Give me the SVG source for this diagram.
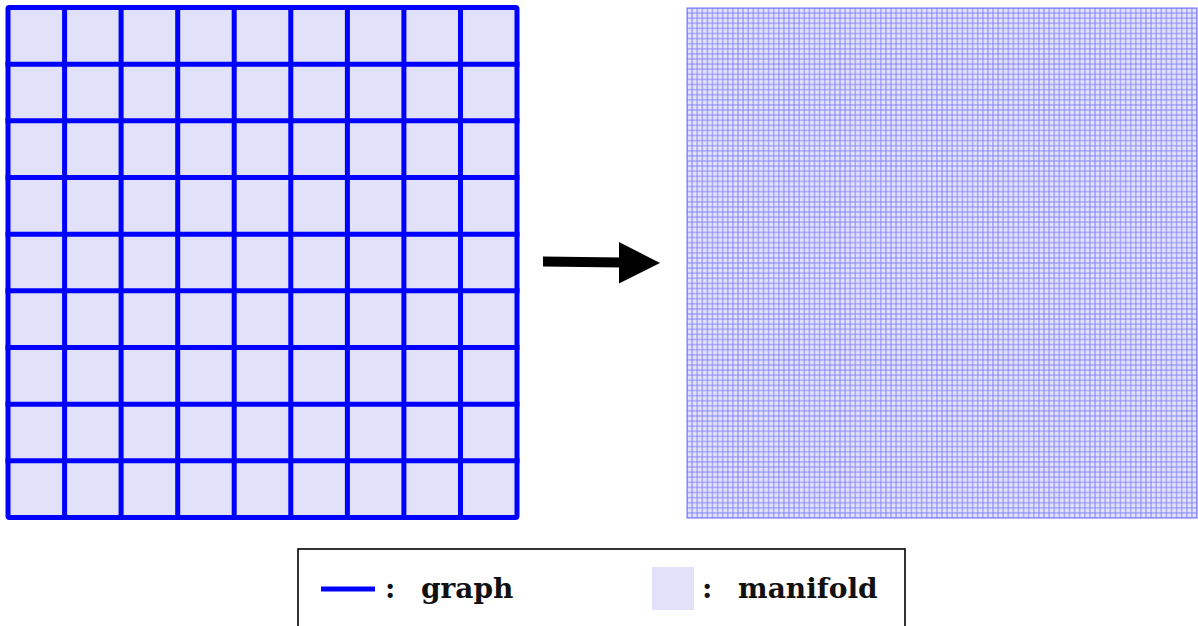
<svg xmlns="http://www.w3.org/2000/svg" width="1198" height="626" viewBox="0 0 1198 626">
<style>
.mf{fill:#e1e1fa}
.graph{fill:none;stroke:#0000ff;stroke-width:5;stroke-linejoin:round;stroke-linecap:square}
.fine{fill:none;stroke:#3a3aff;stroke-width:0.9;stroke-opacity:0.6}
.lbl{font-family:"DejaVu Serif","Liberation Serif",serif;font-weight:bold;font-size:28px;fill:#111}
</style>
<defs>
<pattern id="finegrid" patternUnits="userSpaceOnUse" x="684.45" y="5.45" width="5.1" height="5.1">
<path class="fine" d="M2.55 0V5.1M0 2.55H5.1"/>
</pattern>
</defs>
<rect width="1198" height="626" fill="#ffffff"/>
<g id="coarse-graph">
<rect class="mf" x="8" y="7.5" width="509" height="510"/>
<path class="graph" d="M64.6 7.5V517.5M121.1 7.5V517.5M177.7 7.5V517.5M234.2 7.5V517.5M290.8 7.5V517.5M347.4 7.5V517.5M403.9 7.5V517.5M460.5 7.5V517.5M8 64.2H517M8 120.8H517M8 177.5H517M8 234.2H517M8 290.8H517M8 347.5H517M8 404.2H517M8 460.8H517"/>
<rect class="graph" x="8" y="7.5" width="509" height="510" rx="1.5"/>
</g>
<g id="fine-manifold">
<rect class="mf" x="687" y="8" width="510" height="510"/>
<rect x="687" y="8" width="510" height="510" fill="url(#finegrid)"/>
<rect x="687" y="8" width="510" height="510" fill="none" stroke="#7070ff" stroke-width="1"/>
</g>
<g id="connectors">
<polygon points="543,256.5 622,257.5 622,267.5 543,266.5" fill="#000"/>
<polygon points="619,242 660,263 619,283.5" fill="#000"/>
</g>
<g id="legend">
<rect x="298" y="549" width="607" height="100" fill="#fff" stroke="#000" stroke-width="1.6"/>
<line x1="321" y1="589" x2="375" y2="589" stroke="#0000ff" stroke-width="5"/>
<text class="lbl" x="385" y="598">:</text>
<text class="lbl" x="421" y="598">graph</text>
<rect class="mf" x="652" y="567" width="42" height="43"/>
<text class="lbl" x="702" y="598">:</text>
<text class="lbl" x="738" y="598">manifold</text>
</g>
</svg>
